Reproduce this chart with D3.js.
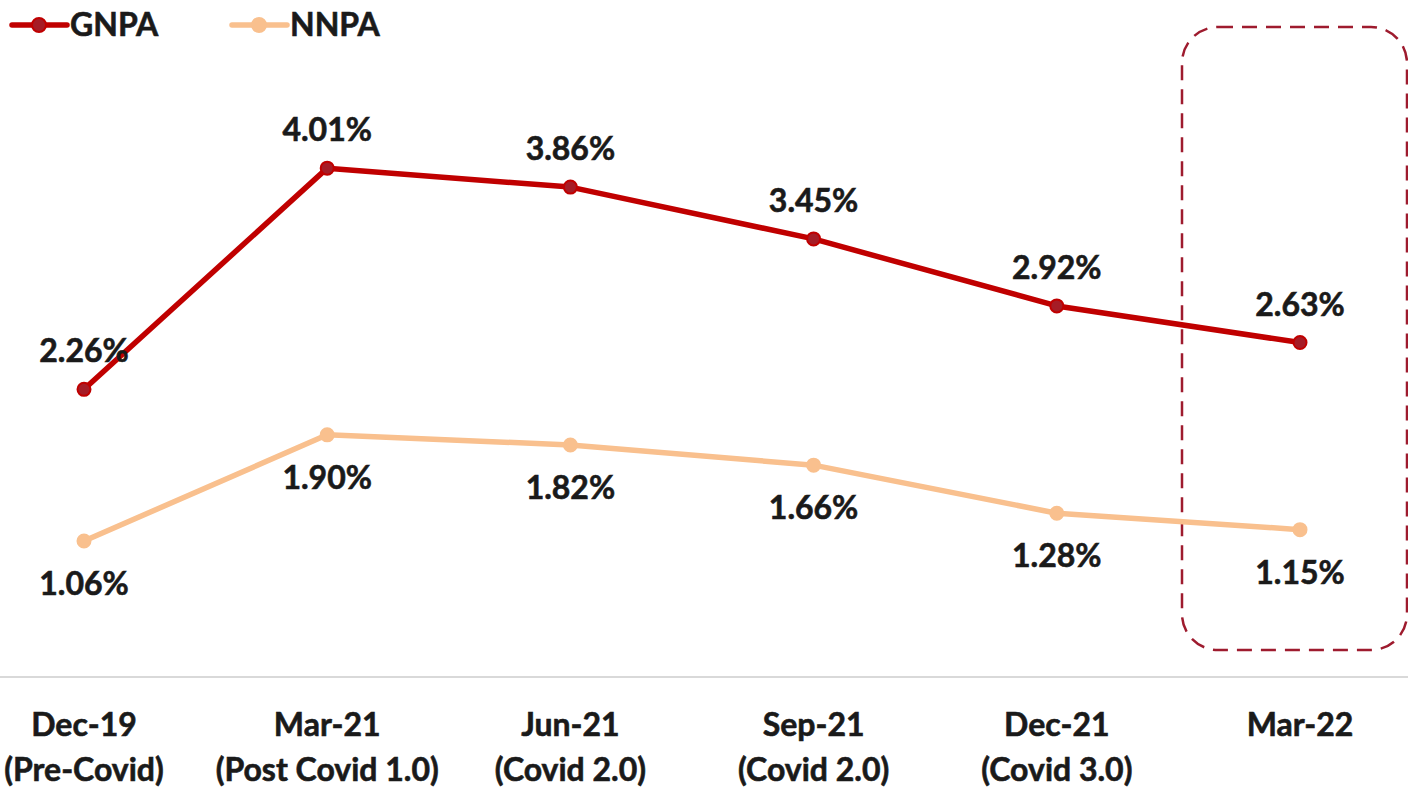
<!DOCTYPE html>
<html><head><meta charset="utf-8">
<script src="https://cdn.jsdelivr.net/npm/d3@7"></script>
<style>
html,body{margin:0;padding:0;background:#fff;}
svg text{font-family:Lato,"Open Sans",sans-serif;font-weight:700;fill:#1a1a1a;stroke:#1a1a1a;stroke-width:0.6px;}
</style></head>
<body>
<svg id="chart" width="1408" height="789"></svg>
<script>
const categories = ["Dec-19","Mar-21","Jun-21","Sep-21","Dec-21","Mar-22"];
const subLabels = ["(Pre-Covid)","(Post Covid 1.0)","(Covid 2.0)","(Covid 2.0)","(Covid 3.0)",""];
const gnpa = [2.26,4.01,3.86,3.45,2.92,2.63];
const nnpa = [1.06,1.90,1.82,1.66,1.28,1.15];
const seriesNames = ["GNPA","NNPA"];

const W = 1408, H = 789;
const svg = d3.select("#chart");
const FS = 32;

const x = d3.scalePoint().domain(categories).range([84, 1300]);
const y = d3.scaleLinear().domain([0, 5]).range([675, 43]);

const colors = {GNPA:{line:"#c00000", dot:"#a61c26"}, NNPA:{line:"#f9c08e", dot:"#f9c08e"}};

// axis line
const axis = d3.axisBottom(x).tickSize(0).tickFormat("");
const ag = svg.append("g").attr("transform", `translate(0,${y(0)+2})`).call(axis);
ag.select(".domain").attr("d", `M0,0H${W}`).attr("stroke","#d9d9d9").attr("stroke-width",2);

// category labels
const cl = svg.append("g");
categories.forEach((c,i)=>{
  cl.append("text").attr("x", x(c)).attr("y", 736).attr("text-anchor","middle").attr("font-size",FS).text(c);
  if (subLabels[i]) cl.append("text").attr("x", x(c)).attr("y", 781).attr("text-anchor","middle").attr("font-size",FS).text(subLabels[i]);
});

// highlight box
svg.append("rect").attr("x", 1182).attr("y", 27).attr("width", 225).attr("height", 623)
  .attr("rx", 36).attr("ry", 36).attr("fill","none").attr("stroke","#9e1b2e")
  .attr("stroke-width",2.5).attr("stroke-dasharray","15 9");

const line = d3.line().x((d,i)=>x(categories[i])).y(d=>y(d));

function drawSeries(vals, name, above){
  const c = colors[name];
  svg.append("path").datum(vals).attr("d", line).attr("fill","none")
    .attr("stroke", c.line).attr("stroke-width",5.5).attr("stroke-linejoin","round");
  svg.append("g").selectAll("circle").data(vals).join("circle")
    .attr("cx",(d,i)=>x(categories[i])).attr("cy",d=>y(d)).attr("r",6.5)
    .attr("fill",c.dot).attr("stroke",c.line).attr("stroke-width",2);
  svg.append("g").selectAll("text").data(vals).join("text")
    .attr("x",(d,i)=>x(categories[i]))
    .attr("y",d=> above ? y(d)-27 : y(d)+54)
    .attr("text-anchor","middle").attr("font-size",FS)
    .text(d=>d.toFixed(2)+"%");
}
drawSeries(gnpa,"GNPA",true);
drawSeries(nnpa,"NNPA",false);

// legend
const leg = svg.append("g");
seriesNames.forEach((n,i)=>{
  const lx = 12 + i*220;
  const c = colors[n];
  leg.append("line").attr("x1",lx).attr("x2",lx+55).attr("y1",25).attr("y2",25)
    .attr("stroke",c.line).attr("stroke-width",5.5).attr("stroke-linecap","round");
  leg.append("circle").attr("cx",lx+27).attr("cy",25).attr("r",7).attr("fill",c.dot).attr("stroke",c.line).attr("stroke-width",2);
  leg.append("text").attr("x",lx+58).attr("y",36).attr("font-size",FS).text(n);
});
</script>
</body></html>
